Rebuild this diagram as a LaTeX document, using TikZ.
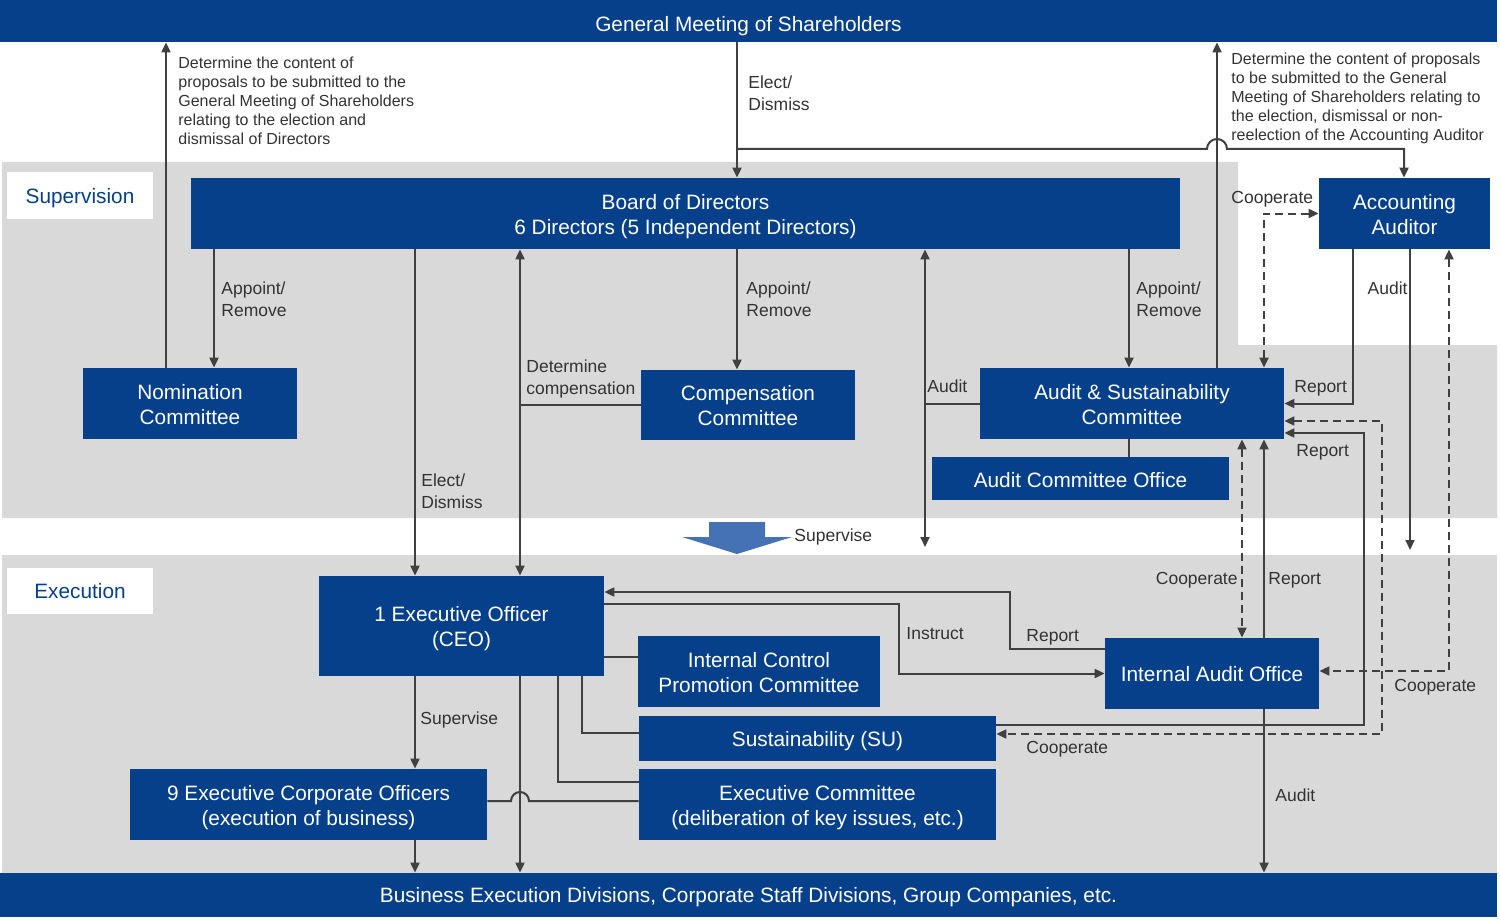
\documentclass[tikz,border=0pt]{standalone}
\usepackage{fontspec}
\setmainfont{Liberation Sans}
\usetikzlibrary{arrows.meta}
\definecolor{navy}{HTML}{06408A}
\definecolor{bg}{HTML}{D9D9D9}
\definecolor{ln}{HTML}{404040}
\definecolor{tx}{HTML}{333333}
\definecolor{supblue}{HTML}{4472B4}
\tikzset{
  bx/.style 2 args={minimum width=#1*0.5pt, minimum height=#2*0.5pt},
  box/.style={fill=navy, inner sep=0pt},
  bt/.style={text=white, inner sep=0pt, align=center, font=\fontsize{10.4}{12.5}\selectfont},
  tag/.style={fill=white, inner sep=0pt},
  tt/.style={text=navy, inner sep=0pt, font=\fontsize{10.4}{12.5}\selectfont},
  lbl/.style={text=tx, inner sep=0pt, align=left, font=\fontsize{8.75}{11}\selectfont, yshift=-1pt},
  note/.style={text=tx, inner sep=0pt, align=left, font=\fontsize{8}{9.5}\selectfont, yshift=-0.75pt},
  conn/.style={draw=ln, line width=1pt},
  arr/.style={conn, -{Triangle[length=5pt,width=4.5pt]}},
  biarr/.style={conn, {Triangle[length=5pt,width=4.5pt]}-{Triangle[length=5pt,width=4.5pt]}},
  dasharr/.style={biarr, dash pattern=on 4pt off 2.5pt},
}
\begin{document}
\begin{tikzpicture}[x=0.5pt, y=-0.5pt]
\useasboundingbox (0,0) rectangle (1500,920);
% backgrounds
\fill[white] (0,0) rectangle (1500,920);
\fill[bg] (2,162) -- (1238,162) -- (1238,345) -- (1497,345) -- (1497,518) -- (2,518) -- cycle;
\fill[bg] (2,555) rectangle (1497,873);

% nodes
\node[box, bx={1497}{42}, label={[bt, yshift=-2.5pt]center:General Meeting of Shareholders}] (gms) at (748.5,21) {};
\node[box, bx={1497}{44}, label={[bt, yshift=-1pt]center:Business Execution Divisions, Corporate Staff Divisions, Group Companies, etc.}] (bot) at (748.5,895) {};
\node[tag, bx={146}{47}, label={[tt, yshift=-1.5pt]center:Supervision}] (supv) at (80,195.5) {};
\node[tag, bx={146}{46}, label={[tt]center:Execution}] (exec) at (80,591) {};
\node[box, bx={989}{71}, label={[bt, yshift=-1.5pt]center:{Board of Directors\\6 Directors (5 Independent Directors)}}] (board) at (685.5,213.5) {};
\node[box, bx={214}{71}, label={[bt, yshift=-0.5pt]center:{Nomination\\Committee}}] (nom) at (190,403.5) {};
\node[box, bx={214}{70}, label={[bt, yshift=-0.5pt]center:{Compensation\\Committee}}] (comp) at (748,405) {};
\node[box, bx={304}{71}, label={[bt, yshift=-0.5pt]center:{Audit \& Sustainability\\Committee}}] (as) at (1132,403.5) {};
\node[box, bx={297}{43}, label={[bt, yshift=-1pt]center:Audit Committee Office}] (aco) at (1080.5,478.5) {};
\node[box, bx={171}{71}, label={[bt, yshift=-0.5pt]center:{Accounting\\Auditor}}] (aa) at (1404.5,213.5) {};
\node[box, bx={285}{100}, label={[bt, yshift=-1.5pt]center:{1 Executive Officer\\(CEO)}}] (ceo) at (461.5,626) {};
\node[box, bx={242}{71}, label={[bt, yshift=-0.5pt]center:{Internal Control\\Promotion Committee}}] (icpc) at (759,671.5) {};
\node[box, bx={357}{45}, label={[bt, yshift=-1.5pt]center:Sustainability (SU)}] (su) at (817.5,738.5) {};
\node[box, bx={357}{71}, label={[bt, yshift=-1.5pt]center:{Executive Committee\\(deliberation of key issues, etc.)}}] (ec) at (817.5,804.5) {};
\node[box, bx={357}{71}, label={[bt, yshift=-1.5pt]center:{9 Executive Corporate Officers\\(execution of business)}}] (eco) at (308.5,804.5) {};
\node[box, bx={214}{71}, label={[bt, yshift=-0.5pt]center:Internal Audit Office}] (iao) at (1212,673.5) {};

% supervise block arrow
\fill[supblue] (709,522) -- (765,522) -- (765,537) -- (792,537) -- (737,554) -- (682,537) -- (709,537) -- cycle;
\node[lbl, anchor=west] (lsup) at (794,535) {Supervise};

% free ends
\coordinate (auditEnd) at (925,547);
\coordinate (aaAuditEnd) at (1410,550);

% top connectors
\draw[arr] (nom.north -| 166,0) -- (gms.south -| 166,0);
\node[note, anchor=west] (n1) at (178,99) {Determine the content of\\proposals to be submitted to the\\General Meeting of Shareholders\\relating to the election and\\dismissal of Directors};
\draw[arr] (gms.south -| 737,0) -- (board.north -| 737,0);
\node[lbl, anchor=west] (l1) at (748,91) {Elect/\\Dismiss};
\draw[arr] (737,149) -- (1207,149) arc[start angle=180, end angle=360, radius=10] -- (1404,149) -- (aa.north -| 1404,0);
\draw[arr] (as.north -| 1217,0) -- (gms.south -| 1217,0);
\node[note, anchor=west] (n2) at (1231,97) {Determine the content of proposals\\to be submitted to the General\\Meeting of Shareholders relating to\\the election, dismissal or non-\\reelection of the Accounting Auditor};

% board to committees
\draw[arr] (board.south -| 214,0) -- (nom.north -| 214,0);
\node[lbl, anchor=west] (l2) at (221,297) {Appoint/\\Remove};
\draw[arr] (board.south -| 737,0) -- (comp.north -| 737,0);
\node[lbl, anchor=west] (l3) at (746,297) {Appoint/\\Remove};
\draw[arr] (board.south -| 1129,0) -- (as.north -| 1129,0);
\node[lbl, anchor=west] (l4) at (1136,297) {Appoint/\\Remove};
\draw[conn] (as.south -| 1129,0) -- (aco.north -| 1129,0);

\draw[arr] (board.south -| 415,0) -- (ceo.north -| 415,0);
\node[lbl, anchor=west] (l5) at (421,489) {Elect/\\Dismiss};
\draw[biarr] (ceo.north -| 520,0) -- (board.south -| 520,0);
\draw[conn] (520,405) -- (comp.west);
\node[lbl, anchor=west] (l6) at (526,377) {Determine\\compensation};

\draw[biarr] (board.south -| 925,0) -- (auditEnd);
\draw[conn] (925,403.5) -- (as.west);
\node[lbl, anchor=west] (l7) at (927,384) {Audit};

% accounting auditor
\draw[dasharr] (aa.west) -- (1264,213.5) -- (as.north -| 1264,0);
\node[lbl, anchor=west] (l8) at (1231,197) {Cooperate};
\draw[arr] (aa.south -| 1353,0) -- (1353,403.5) -- (as.east);
\node[lbl, anchor=west] (l9) at (1294,386) {Report};
\draw[arr] (aa.south -| 1410,0) -- (aaAuditEnd);
\node[lbl, anchor=east] (l10) at (1408,286) {Audit};
\draw[dasharr] (aa.south -| 1449,0) -- (1449,671) -- (iao.east |- 0,671);
\node[lbl, anchor=west] (l11) at (1394,685) {Cooperate};

% A&S with execution side
\draw[dasharr] (as.east |- 0,421) -- (1382,421) -- (1382,734) -- (su.east |- 0,734);
\node[lbl, anchor=west] (l12) at (1026,747) {Cooperate};
\draw[arr] (su.east |- 0,725) -- (1364,725) -- (1364,433) -- (as.east |- 0,433);
\node[lbl, anchor=west] (l13) at (1296,450) {Report};
\draw[dasharr] (as.south -| 1242,0) -- (iao.north -| 1242,0);
\node[lbl, anchor=east] (l14) at (1238,578) {Cooperate};
\draw[arr] (iao.north -| 1264,0) -- (as.south -| 1264,0);
\node[lbl, anchor=west] (l15) at (1268,578) {Report};
\draw[arr] (iao.south -| 1264,0) -- (bot.north -| 1264,0);
\node[lbl, anchor=west] (l16) at (1275,793) {Audit};

% CEO and IAO
\draw[arr] (ceo.east |- 0,604) -- (899,604) -- (899,673.5) -- (iao.west);
\node[lbl, anchor=west] (l17) at (906,632) {Instruct};
\draw[arr] (iao.west |- 0,649) -- (1010,649) -- (1010,592) -- (ceo.east |- 0,592);
\node[lbl, anchor=west] (l18) at (1026,635) {Report};

% CEO to execution bodies
\draw[conn] (ceo.east |- 0,657) -- (icpc.west |- 0,657);
\draw[conn] (ceo.south -| 582,0) -- (582,733) -- (su.west |- 0,733);
\draw[conn] (ceo.south -| 558,0) -- (558,782) -- (ec.west |- 0,782);
\draw[conn] (eco.east |- 0,801) -- (511,801) arc[start angle=180, end angle=360, radius=9] -- (ec.west |- 0,801);
\draw[arr] (ceo.south -| 520,0) -- (bot.north -| 520,0);
\draw[arr] (ceo.south -| 415,0) -- (eco.north -| 415,0);
\node[lbl, anchor=west] (l19) at (420,718) {Supervise};
\draw[arr] (eco.south -| 415,0) -- (bot.north -| 415,0);
\end{tikzpicture}
\end{document}
